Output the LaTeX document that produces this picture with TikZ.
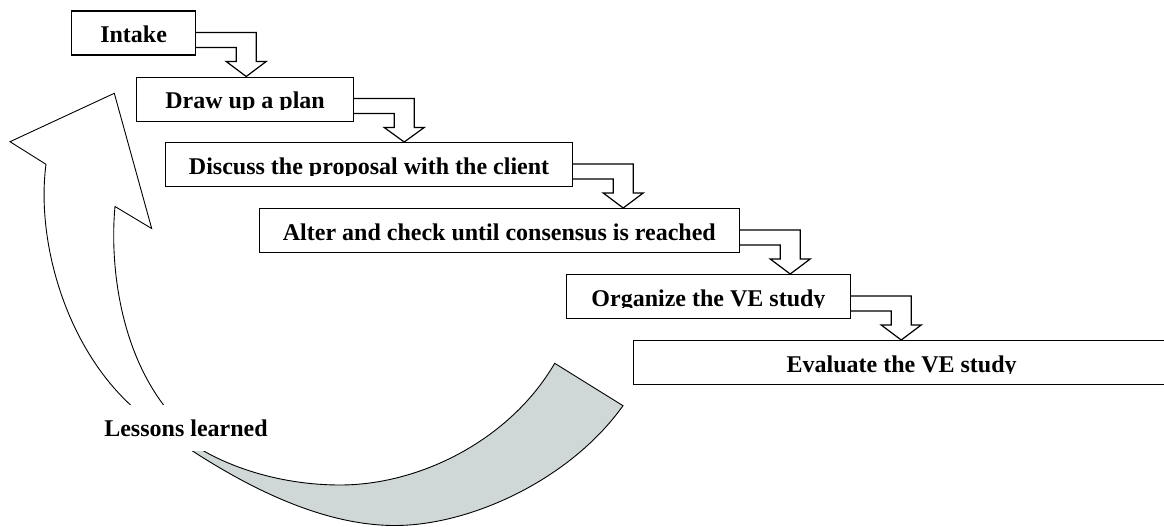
\documentclass[tikz,border=0pt]{standalone}
\usepackage{fontspec}
\setmainfont{Liberation Serif}
\usetikzlibrary{calc}
\definecolor{lgray}{RGB}{207,215,215}
\tikzset{
  boxst/.style={draw, line width=1.2pt, rectangle, inner sep=0pt, minimum height=44pt, fill=white},
  labelst/.style={inner sep=0pt, font=\fontsize{24}{28}\selectfont\bfseries},
  arrowst/.style={draw, line width=1.2pt, line join=miter},
  curvest/.style={draw, line width=0.9pt, line join=miter},
}
% name, left x, top y, width, text
\newcommand\stepbox[5]{%
  \node[boxst, minimum width=#4pt, anchor=north west] (#1) at (#2,#3) {};
  \begin{scope}
    \clip ($(#1.north west)$) rectangle ($(#1.north east)+(0,33.3)$);
    \node[labelst, anchor=base] (#1-t) at ($(#1.north)+(0,32)$) {#5};
  \end{scope}}
% from box, to box
\newcommand\steparrow[2]{%
  \coordinate (#1-x) at ($(#1.north east)+(50,0)$);
  \draw[arrowst] ($(#1.north east)+(0,22)$) -- ($(#1.north east)+(60,22)$)
    -- ($(#1.north east)+(60,51)$) -- ($(#1.north east)+(70,51)$)
    -- (#1-x |- #2.north) -- ($(#1.north east)+(30,51)$)
    -- ($(#1.north east)+(40,51)$) -- ($(#1.north east)+(40,37)$)
    -- ($(#1.north east)+(0,37)$);}
\begin{document}
\begin{tikzpicture}[x=1pt,y=-1pt]
\useasboundingbox (0,0) rectangle (1164,527);

% white curved arrow (upwards)
\draw[curvest, fill=white] (135,410) -- (131.3,405.7)
  .. controls (65,345) and (36,240) .. (46,164.3)
  -- (10,141.7) -- (114.3,93.3) -- (151.7,228.5) -- (115,206.5)
  .. controls (110,260) and (118,345) .. (164.1,405.7) -- (166.6,410) -- cycle;

% grey curved arrow (bottom)
\draw[curvest, fill=lgray] (186,447) -- (191,450)
  .. controls (260,495) and (330,525.5) .. (395,525.5)
  .. controls (470,525.5) and (570,480) .. (623,405.7)
  -- (554.7,363.3)
  .. controls (510,440) and (420,485) .. (340,485)
  .. controls (290,485) and (240,472) .. (202,450)
  -- (196,446.5) -- cycle;

% label covering the middle of the loop
\node[labelst, fill=white, minimum width=190pt, text height=31.4pt, text depth=14.4pt, anchor=base] (lessons) at (186,436.7) {Lessons learned};

% steps
\stepbox{intake}{71}{10.5}{124}{Intake}
\stepbox{plan}{136}{76.5}{217}{Draw up a plan}
\stepbox{discuss}{165}{142}{407}{Discuss the proposal with the client}
\stepbox{alter}{258.5}{208}{480.5}{Alter and check until consensus is reached}
\stepbox{organize}{565.7}{274}{284.3}{Organize the VE study}
\stepbox{evaluate}{633}{340}{536}{Evaluate the VE study}

\steparrow{intake}{plan}
\steparrow{plan}{discuss}
\steparrow{discuss}{alter}
\steparrow{alter}{organize}
\steparrow{organize}{evaluate}
\end{tikzpicture}
\end{document}
